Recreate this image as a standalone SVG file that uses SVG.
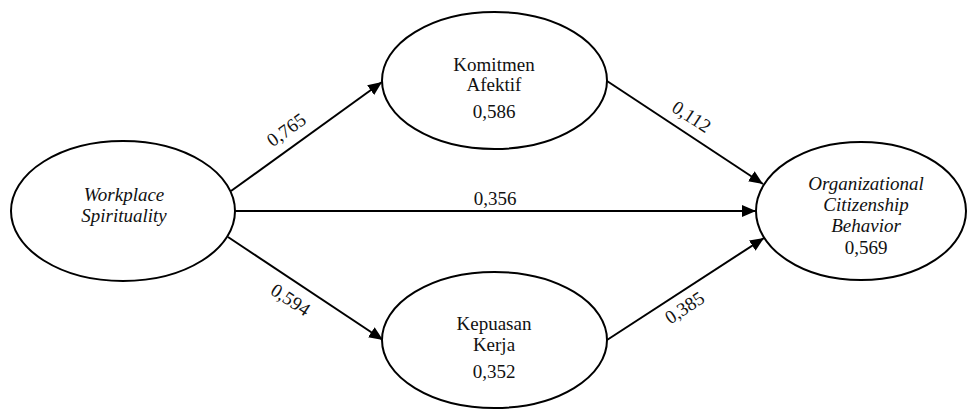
<svg xmlns="http://www.w3.org/2000/svg" width="968" height="409" viewBox="0 0 968 409">
<style>
.node ellipse{fill:#fff;stroke:#000;stroke-width:2}
text{font-family:"Liberation Serif","Times New Roman",serif;font-size:19px;fill:#111;text-anchor:middle}
.it{font-style:italic}
.conn{stroke:#000;stroke-width:2;marker-end:url(#ah)}
</style>
<defs>
<marker id="ah" markerUnits="userSpaceOnUse" markerWidth="16" markerHeight="14" refX="14" refY="6" orient="auto">
<path d="M0,0 L14,6 L0,12 Z" fill="#000"/>
</marker>
</defs>
<rect width="968" height="409" fill="#fff"/>
<g id="connectors">
<line class="conn" x1="231" y1="191" x2="382" y2="82"/>
<line class="conn" x1="235" y1="211" x2="756" y2="211"/>
<line class="conn" x1="228" y1="237" x2="383" y2="340"/>
<line class="conn" x1="607" y1="81" x2="763" y2="184"/>
<line class="conn" x1="607" y1="340" x2="764" y2="238"/>
<text transform="translate(290,135) rotate(-35.6)">0,765</text>
<text x="495" y="205">0,356</text>
<text transform="translate(287,305) rotate(33.6)">0,594</text>
<text transform="translate(688,122) rotate(33.4)">0,112</text>
<text transform="translate(688,313) rotate(-33.4)">0,385</text>
</g>
<g id="ws" class="node">
<ellipse cx="123" cy="211" rx="112" ry="70"/>
<text class="it" x="124" y="201">Workplace</text>
<text class="it" x="124" y="222">Spirituality</text>
</g>
<g id="ka" class="node">
<ellipse cx="494.5" cy="80.5" rx="112.5" ry="68.5"/>
<text x="494" y="71">Komitmen</text>
<text x="494" y="91">Afektif</text>
<text x="494" y="118">0,586</text>
</g>
<g id="kk" class="node">
<ellipse cx="494.5" cy="340" rx="112.5" ry="68"/>
<text x="494" y="330">Kepuasan</text>
<text x="494" y="351">Kerja</text>
<text x="494" y="378">0,352</text>
</g>
<g id="ocb" class="node">
<ellipse cx="861" cy="211" rx="105" ry="69"/>
<text class="it" x="866" y="190">Organizational</text>
<text class="it" x="866" y="211">Citizenship</text>
<text class="it" x="866" y="232">Behavior</text>
<text x="866" y="254">0,569</text>
</g>
</svg>
